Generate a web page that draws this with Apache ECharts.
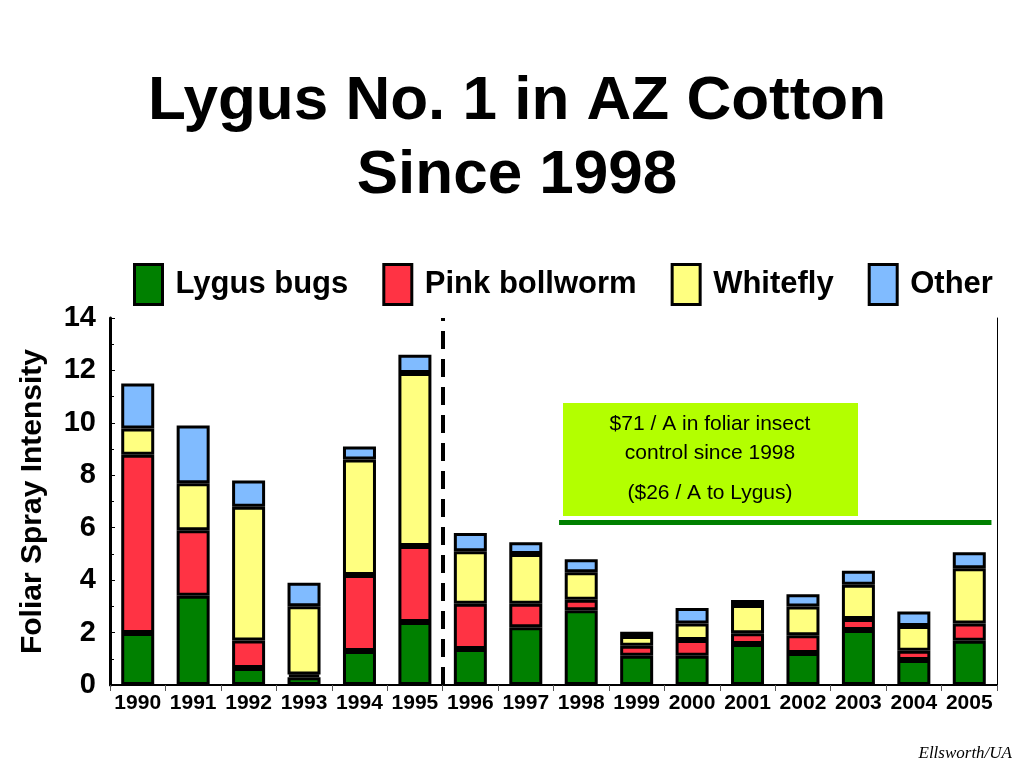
<!DOCTYPE html>
<html><head><meta charset="utf-8">
<script src="https://cdn.jsdelivr.net/npm/echarts@6/dist/echarts.min.js"></script>
<style>html,body{margin:0;padding:0;background:#fff}#c{width:1024px;height:768px}</style>
</head><body><div id="c"></div>
<script>
const years=['1990','1991','1992','1993','1994','1995','1996','1997','1998','1999','2000','2001','2002','2003','2004','2005'];
const lygus=[1.98,3.4,0.65,0.3,1.3,2.4,1.37,2.2,2.85,1.12,1.12,1.56,1.22,2.1,0.95,1.69];
const pink=[6.8,2.5,1.05,0.1,2.9,2.9,1.73,0.9,0.4,0.38,0.6,0.41,0.68,0.42,0.36,0.66];
const whitefly=[1.0,1.8,5.1,2.6,4.4,6.6,2.0,1.9,1.05,0.37,0.63,1.08,1.09,1.3,0.94,2.1];
const other=[1.72,2.2,1.0,0.9,0.5,0.7,0.7,0.45,0.5,0.16,0.59,0.19,0.47,0.54,0.55,0.61];
const ticks=[0,2,4,6,8,10,12,14];
const chart=echarts.init(document.getElementById('c'));
const bs={borderColor:'#000',borderWidth:3};
function ser(name,data,color){return {name,type:'bar',stack:'s',data,barWidth:33,itemStyle:Object.assign({color},bs)};}
chart.setOption({
 animation:false,
 title:{text:'Lygus No. 1 in AZ Cotton\nSince 1998',left:512,textAlign:'center',top:60,textStyle:{fontFamily:'Liberation Sans',fontWeight:'bold',fontSize:62,lineHeight:74,color:'#000'}},
 legend:{top:258,left:128,icon:'rect',itemWidth:28,itemHeight:40,itemGap:34,textStyle:{fontFamily:'Liberation Sans',fontWeight:'bold',fontSize:31,color:'#000',padding:[0,0,0,8]},
   data:['Lygus bugs','Pink bollworm','Whitefly','Other'],itemStyle:{borderColor:'#000',borderWidth:3}},
 grid:{left:110,right:27,top:318,bottom:83},
 xAxis:[{type:'category',data:years,axisLine:{lineStyle:{color:'#000',width:2}},axisTick:{show:true,length:6,lineStyle:{color:'#555'}},
   axisLabel:{fontFamily:'Liberation Sans',fontWeight:'bold',fontSize:21,color:'#000',margin:8,interval:0}},
   {type:'value',min:-0.5,max:15.5,show:false}],
 yAxis:[{type:'value',min:0,max:14,interval:2,name:'Foliar Spray Intensity',nameLocation:'middle',nameGap:62,
   nameTextStyle:{fontFamily:'Liberation Sans',fontWeight:'bold',fontSize:30,color:'#000'},
   axisLine:{show:true,onZero:false,lineStyle:{color:'#000',width:3}},axisTick:{show:true,inside:true,length:5,lineStyle:{color:'#000'}},
   minorTick:{show:true,splitNumber:2,length:4,lineStyle:{color:'#000'}},splitLine:{show:false},
   axisLabel:{fontFamily:'Liberation Sans',fontWeight:'bold',fontSize:29,color:'#000',margin:14,formatter:v=>ticks.includes(v)?String(v):''}},
   {type:'value',min:0,max:14,position:'right',axisLine:{show:true,onZero:false,lineStyle:{color:'#000',width:1}},axisTick:{show:false},axisLabel:{show:false},splitLine:{show:false}}],
 series:[ser('Lygus bugs',lygus,'#008000'),ser('Pink bollworm',pink,'#ff3344'),ser('Whitefly',whitefly,'#ffff80'),ser('Other',other,'#80bbff'),
  {type:'line',xAxisIndex:1,data:[],silent:true,markLine:{symbol:'none',silent:true,label:{show:false},
   data:[[{coord:[5.5,0],lineStyle:{color:'#000',width:4,type:[18,10]}},{coord:[5.5,14]}],
         [{coord:[7.6,6.2],lineStyle:{color:'#008000',width:5,type:'solid'}},{coord:[15.4,6.2]}]]}}],
 graphic:[
  {type:'rect',shape:{x:563,y:403,width:295,height:113},style:{fill:'#b3ff00'}},
  {type:'text',x:710,y:410,style:{text:'$71 / A in foliar insect\ncontrol since 1998',textAlign:'center',font:'21px "Liberation Sans"',lineHeight:29,fill:'#000'}},
  {type:'text',x:710,y:483,style:{text:'($26 / A to Lygus)',textAlign:'center',font:'21px "Liberation Sans"',fill:'#000'}},
  {type:'text',right:12,bottom:6,style:{text:'Ellsworth/UA',font:'italic 17px "Liberation Serif"',fill:'#000'}}
 ]
});
</script></body></html>
